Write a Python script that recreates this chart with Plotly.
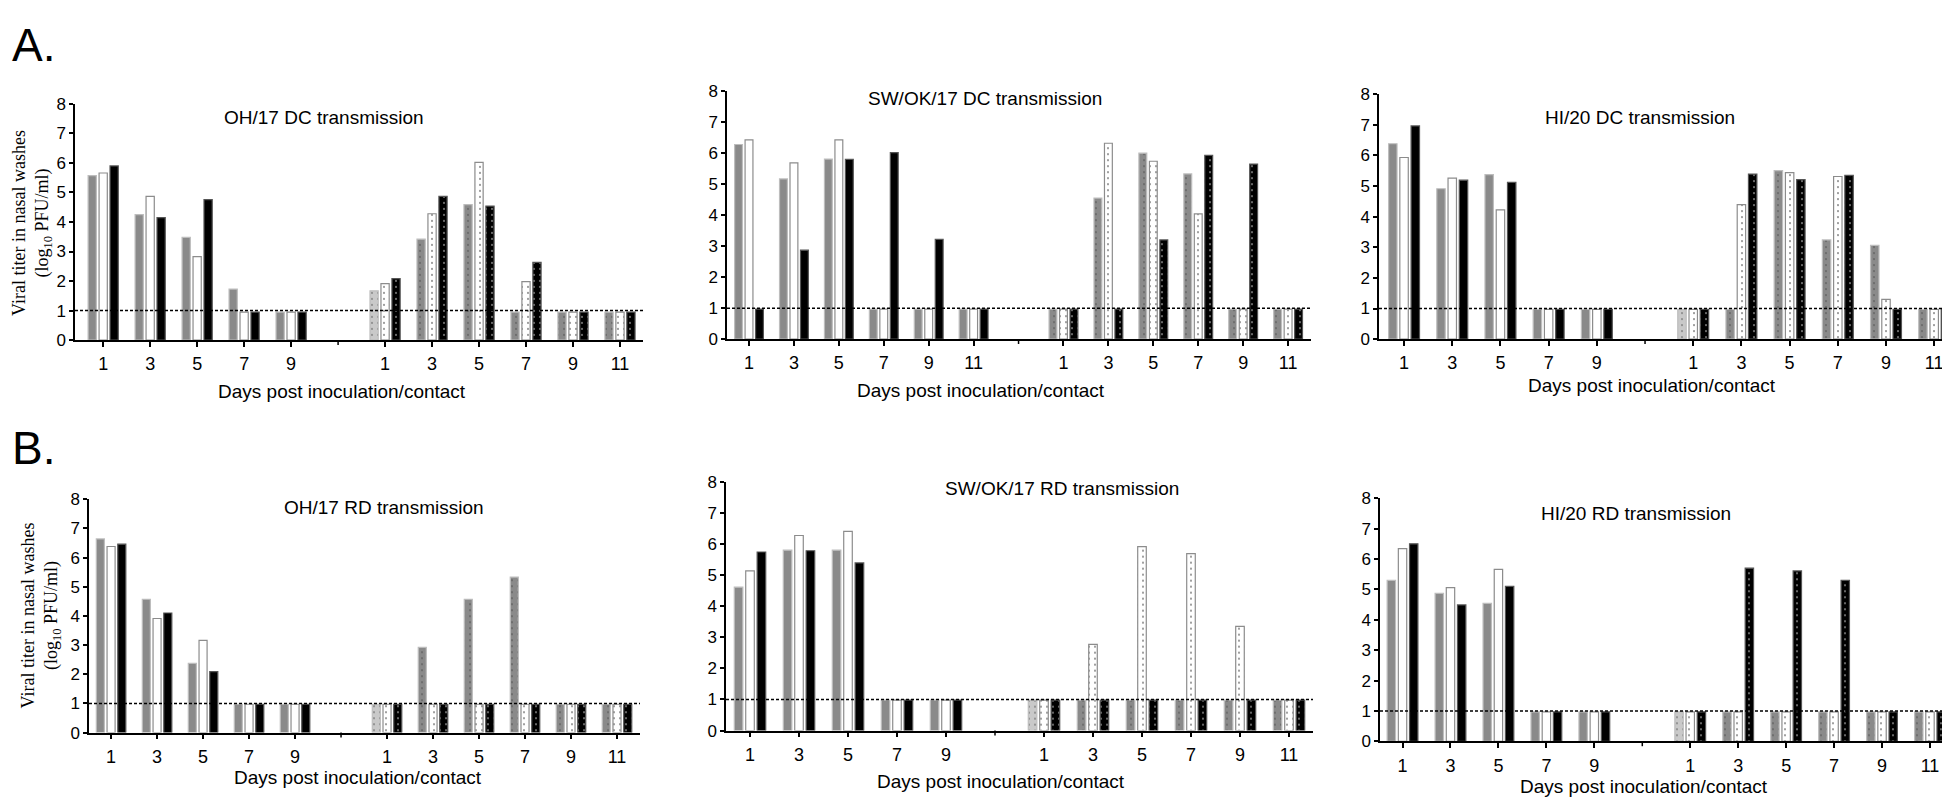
import plotly.graph_objects as go

W, H = 1950, 798

# tick labels for the two day groups (inoculated | contact)
DAYS_TO_9 = ['1', '3', '5', '7', '9']
DAYS_TO_11 = ['1', '3', '5', '7', '9', '11']

# titers (log10 PFU/ml): inoculated days, empty gap, contact days
OH_DC_GRAY = [5.57, 4.25, 3.48, 1.73, 0.95, None, 1.67, 3.42, 4.59, 0.95, 0.95, 0.95]
OH_DC_WHITE = [5.66, 4.87, 2.83, 0.95, 0.95, None, 1.91, 4.28, 6.02, 1.98, 0.95, 0.95]
OH_DC_BLACK = [5.90, 4.15, 4.76, 0.95, 0.95, None, 2.08, 4.87, 4.54, 2.63, 0.95, 0.95]

SW_DC_GRAY = [6.28, 5.17, 5.81, 0.97, 0.97, 0.97, None, 0.97, 4.55, 6.00, 5.33, 0.97, 0.97]
SW_DC_WHITE = [6.43, 5.69, 6.43, 0.97, 0.97, 0.97, None, 0.97, 6.32, 5.74, 4.04, 0.97, 0.97]
SW_DC_BLACK = [0.97, 2.87, 5.80, 6.02, 3.22, 0.97, None, 0.97, 0.97, 3.20, 5.93, 5.65, 0.97]

HI_DC_GRAY = [6.38, 4.91, 5.37, 0.97, 0.97, None, 0.97, 0.97, 5.50, 3.24, 3.06, 0.97]
HI_DC_WHITE = [5.93, 5.26, 4.22, 0.97, 0.97, None, 0.97, 4.39, 5.44, 5.31, 1.30, 0.97]
HI_DC_BLACK = [6.96, 5.19, 5.12, 0.97, 0.97, None, 0.97, 5.39, 5.21, 5.35, 0.97, 0.97]

OH_RD_GRAY = [6.64, 4.57, 2.37, 0.97, 0.97, None, 0.97, 2.92, 4.57, 5.33, 0.97, 0.97]
OH_RD_WHITE = [6.38, 3.91, 3.16, 0.97, 0.97, None, 0.97, 0.97, 0.97, 0.97, 0.97, 0.97]
OH_RD_BLACK = [6.46, 4.10, 2.09, 0.97, 0.97, None, 0.97, 0.97, 0.97, 0.97, 0.97, 0.97]

SW_RD_GRAY = [4.61, 5.80, 5.80, 0.98, 0.98, None, 0.98, 0.98, 0.98, 0.98, 0.98, 0.98]
SW_RD_WHITE = [5.13, 6.27, 6.40, 0.98, 0.98, None, 0.98, 2.77, 5.91, 5.69, 3.35, 0.98]
SW_RD_BLACK = [5.74, 5.78, 5.39, 0.98, 0.98, None, 0.98, 0.98, 0.98, 0.98, 0.98, 0.98]

HI_RD_GRAY = [5.30, 4.87, 4.54, 0.97, 0.97, None, 0.97, 0.97, 0.97, 0.97, 0.97, 0.97]
HI_RD_WHITE = [6.34, 5.06, 5.66, 0.97, 0.97, None, 0.97, 0.97, 0.97, 0.97, 0.97, 0.97]
HI_RD_BLACK = [6.50, 4.49, 5.10, 0.97, 0.97, None, 0.97, 5.70, 5.61, 5.30, 0.97, 0.97]

TITLES = ['OH/17 DC transmission', 'SW/OK/17 DC transmission', 'HI/20 DC transmission',
          'OH/17 RD transmission', 'SW/OK/17 RD transmission', 'HI/20 RD transmission']
LIMIT = 1  # detection limit

panels = [
    (OH_DC_GRAY, OH_DC_WHITE, OH_DC_BLACK, DAYS_TO_9, True),
    (SW_DC_GRAY, SW_DC_WHITE, SW_DC_BLACK, DAYS_TO_11, False),
    (HI_DC_GRAY, HI_DC_WHITE, HI_DC_BLACK, DAYS_TO_9, True),
    (OH_RD_GRAY, OH_RD_WHITE, OH_RD_BLACK, DAYS_TO_9, True),
    (SW_RD_GRAY, SW_RD_WHITE, SW_RD_BLACK, DAYS_TO_9, True),
    (HI_RD_GRAY, HI_RD_WHITE, HI_RD_BLACK, DAYS_TO_9, True),
]

# pixel geometry: axis left/right, y=8 top, y=0 bottom, x range, title pos, x-title pos
geom = [
    (67, 635, 89, 331, [-0.60, 11.49], (316, 103), (334, 384)),
    (719, 1303, 76, 330, [-0.49, 12.51], (977, 83), (973, 383)),
    (1371, 1945, 79, 330, [-0.52, 11.39], (1632, 103), (1644, 377)),
    (81, 632, 494, 733, [-0.48, 11.50], (376, 502), (350, 779)),
    (718, 1305, 476, 731, [-0.49, 11.49], (1054, 483), (993, 783)),
    (1372, 1945, 493, 742, [-0.47, 11.48], (1628, 509), (1636, 788)),
]

SANS = 'Liberation Sans, Arial, sans-serif'
SERIF = 'Liberation Serif, Times New Roman, serif'

fig = go.Figure()
annotations = []
shapes = []

for i, ((gray, white, black, inoc_days, light_first), g) in enumerate(zip(panels, geom)):
    k = '' if i == 0 else str(i + 1)
    xa, ya = 'x' + k, 'y' + k
    x0, x1, yt, yb, xr, tpos, xtpos = g
    n_inoc = len(inoc_days)
    xs = list(range(len(gray)))
    pat = [''] * n_inoc + [''] + ['.'] * (len(gray) - n_inoc - 1)

    gray_cols = ['#8a8a8a'] * len(gray)
    if light_first:
        gray_cols[n_inoc + 1] = '#c9c9c9'

    series = [
        (gray, gray_cols, '#bdbdbd', '#111111'),
        (white, '#ffffff', '#8c8c8c', '#111111'),
        (black, '#000000', '#555555', '#ffffff'),
    ]
    for vals, col, lcol, dot in series:
        fig.add_trace(go.Bar(
            x=xs, y=vals, xaxis=xa, yaxis=ya,
            marker=dict(color=col, line=dict(color=lcol, width=1.2),
                        pattern=dict(shape=pat, fgcolor=dot, size=6, solidity=0.1)),
            showlegend=False, hoverinfo='skip'))

    tickvals = [v for v in xs if v != n_inoc]
    ticktext = inoc_days + DAYS_TO_11
    fig.layout['xaxis' + k] = dict(
        domain=[x0 / W, x1 / W], anchor=ya, range=xr,
        tickvals=tickvals, ticktext=ticktext, ticks='outside', ticklen=5, tickwidth=1.5,
        tickcolor='black', showline=True, linecolor='black', linewidth=1.5,
        showgrid=False, zeroline=False, ticklabelstandoff=2,
        tickfont=dict(family=SANS, size=18, color='black'))
    fig.layout['yaxis' + k] = dict(
        domain=[1 - yb / H, 1 - yt / H], anchor=xa, range=[0, 8], dtick=1,
        ticks='outside', ticklen=4, tickwidth=1.5, tickcolor='black',
        showline=True, linecolor='black', linewidth=1.5,
        showgrid=False, zeroline=False,
        tickfont=dict(family=SANS, size=17, color='black'))

    # unlabeled tick between the inoculated and contact groups
    shapes.append(dict(type='line', xref=xa, yref=ya + ' domain', x0=n_inoc, x1=n_inoc,
                       y0=0, y1=-5 / (yb - yt), line=dict(color='black', width=1.5)))
    # detection limit
    shapes.append(dict(type='line', xref=xa + ' domain', yref=ya, x0=0, x1=1,
                       y0=LIMIT, y1=LIMIT, line=dict(color='black', width=1.5, dash='3px,2px')))

    annotations.append(dict(text=TITLES[i], x=tpos[0] / W, y=1 - tpos[1] / H,
                            xref='paper', yref='paper', showarrow=False,
                            xanchor='center', yanchor='middle',
                            font=dict(family=SANS, size=19, color='black')))
    annotations.append(dict(text='Days post inoculation/contact', x=xtpos[0] / W, y=1 - xtpos[1] / H,
                            xref='paper', yref='paper', showarrow=False,
                            xanchor='center', yanchor='middle',
                            font=dict(family=SANS, size=19, color='black')))

# y titles on the left panels
for cx, cy in [(24, 211), (33, 613)]:
    annotations.append(dict(text='Viral titer in nasal washes<br>(log<sub>10</sub> PFU/ml)',
                            x=cx / W, y=1 - cy / H, xref='paper', yref='paper',
                            showarrow=False, textangle=-90, xanchor='center', yanchor='middle',
                            font=dict(family=SERIF, size=18, color='black')))

# panel letters
annotations.append(dict(text='A.', x=2 / W, y=1, xref='paper', yref='paper',
                        showarrow=False, xanchor='left', yanchor='top',
                        font=dict(family=SANS, size=46, color='black')))
annotations.append(dict(text='B.', x=2 / W, y=1 - 442 / H, xref='paper', yref='paper',
                        showarrow=False, xanchor='left', yanchor='middle',
                        font=dict(family=SANS, size=46, color='black')))

fig.update_layout(
    width=W, height=H, margin=dict(l=0, r=0, t=0, b=0),
    plot_bgcolor='white', paper_bgcolor='white',
    barmode='group', bargap=0.3, bargroupgap=0.25,
    annotations=annotations, shapes=shapes)

fig.write_html("out.html")
